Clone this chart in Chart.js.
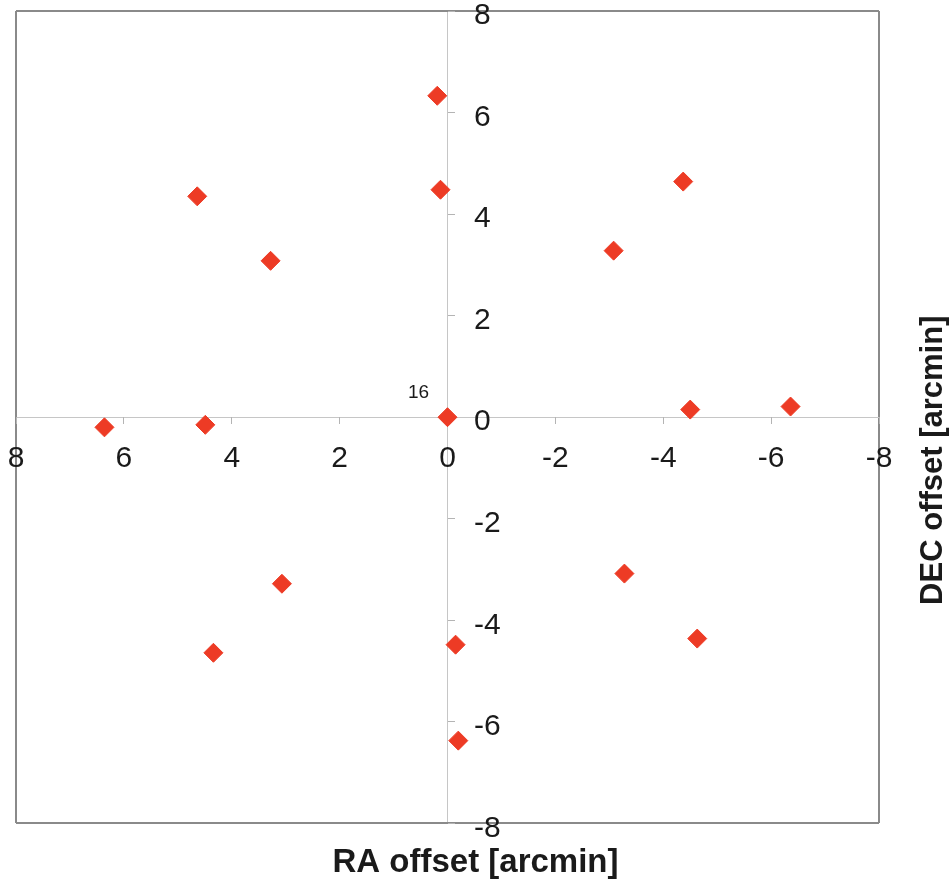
<!DOCTYPE html>
<html lang="en">

<head>
    <meta charset="UTF-8">
    <meta name="viewport" content="width=device-width, initial-scale=1.0">
    <title>Pointing Offsets</title>
    <script src="https://cdn.jsdelivr.net/npm/chart.js@4"></script>
    <style>
        html, body {
            margin: 0;
            padding: 0;
            background: #fff;
        }
        .chart-container {
            position: relative;
            width: 951px;
            height: 886px;
        }
    </style>
</head>

<body>
    <div class="chart-container">
        <canvas id="offsetChart"></canvas>
    </div>

    <script>
        // Pointing offsets in arcmin (RA, DEC) and their labels
        const raOffset  = [0.19, 0.13, 4.64, 3.28, -4.37, -3.08, 0, 6.36, 4.49, -4.50, -6.36, 3.07, 4.34, -3.28, -4.63, -0.15, -0.20];
        const decOffset = [6.33, 4.48, 4.35, 3.08, 4.64, 3.28, 0, -0.20, -0.15, 0.15, 0.21, -3.28, -4.64, -3.08, -4.36, -4.48, -6.37];
        const pointNames = ['', '', '', '', '', '', '16', '', '', '', '', '', '', '', '', '', ''];

        const axisMin = -8;
        const axisMax = 8;
        const axisStep = 2;
        const xTitle = 'RA offset [arcmin]';
        const yTitle = 'DEC offset [arcmin]';

        const FONT = '"Liberation Sans", Arial, sans-serif';
        Chart.defaults.font.family = FONT;
        Chart.defaults.color = '#1a1a1a';

        const markerColor = '#ED3B25';
        const frameColor = '#8a8a8a';
        const zeroColor = '#c6c6c6';

        // outer frame on the +/-8 lines, light cross on 0
        function gridColor(ctx) {
            const v = ctx.tick.value;
            if (v === axisMin || v === axisMax) return frameColor;
            if (v === 0) return zeroColor;
            return 'rgba(0,0,0,0)';
        }
        function gridWidth(ctx) {
            const v = ctx.tick.value;
            return (v === axisMin || v === axisMax) ? 2 : 1;
        }

        // keep helper axes from taking layout space
        function noSpace(scale) {
            if (scale.isHorizontal()) scale.height = 0; else scale.width = 0;
            scale.paddingTop = scale.paddingBottom = scale.paddingLeft = scale.paddingRight = 0;
        }

        const yTitlePlugin = {
            id: 'yTitle',
            afterDraw(chart) {
                const { ctx, chartArea } = chart;
                ctx.save();
                ctx.translate(chartArea.right + 54, (chartArea.top + chartArea.bottom) / 2 + 43);
                ctx.rotate(-Math.PI / 2);
                ctx.font = 'bold 31px ' + FONT;
                ctx.fillStyle = '#1a1a1a';
                ctx.textAlign = 'center';
                ctx.textBaseline = 'middle';
                ctx.fillText(yTitle, 0, 0);
                ctx.restore();
            }
        };

        const pointNamePlugin = {
            id: 'pointNames',
            afterDatasetsDraw(chart) {
                const ctx = chart.ctx;
                const meta = chart.getDatasetMeta(0);
                ctx.save();
                ctx.font = '19px ' + FONT;
                ctx.fillStyle = '#1a1a1a';
                ctx.textAlign = 'center';
                ctx.textBaseline = 'middle';
                meta.data.forEach((pt, i) => {
                    if (pointNames[i]) ctx.fillText(pointNames[i], pt.x - 29, pt.y - 24);
                });
                ctx.restore();
            }
        };

        const ctx = document.getElementById('offsetChart').getContext('2d');
        const chart = new Chart(ctx, {
            type: 'scatter',
            data: {
                datasets: [{
                    data: raOffset.map((x, i) => ({ x: x, y: decOffset[i] })),
                    xAxisID: 'x',
                    yAxisID: 'y',
                    pointStyle: 'rectRot',
                    pointRadius: 9.5,
                    pointHoverRadius: 9.5,
                    backgroundColor: markerColor,
                    borderColor: markerColor,
                    borderWidth: 1
                }]
            },
            options: {
                responsive: true,
                maintainAspectRatio: false,
                animation: false,
                events: [],
                layout: { padding: { top: 11, left: 0, right: 0, bottom: 0 } },
                scales: {
                    x: {
                        type: 'linear',
                        position: 'bottom',
                        min: axisMin,
                        max: axisMax,
                        reverse: true,
                        ticks: { display: false, stepSize: axisStep },
                        grid: { drawTicks: false, color: gridColor, lineWidth: gridWidth },
                        border: { display: false }
                    },
                    y: {
                        type: 'linear',
                        position: 'right',
                        min: axisMin,
                        max: axisMax,
                        ticks: { display: false, stepSize: axisStep },
                        grid: { drawTicks: false, color: gridColor, lineWidth: gridWidth },
                        border: { display: false },
                        afterFit: (scale) => { scale.width = 72; }
                    },
                    // RA labels along the DEC = 0 line
                    xZero: {
                        axis: 'x',
                        type: 'linear',
                        position: { y: 0 },
                        min: axisMin,
                        max: axisMax,
                        reverse: true,
                        ticks: { stepSize: axisStep, padding: 17, font: { size: 30 } },
                        grid: { drawOnChartArea: false, tickLength: 7, color: '#b4b4b4' },
                        border: { display: false },
                        afterFit: noSpace
                    },
                    // DEC labels just right of the RA = 0 line
                    yLabels: {
                        axis: 'y',
                        type: 'linear',
                        position: 'left',
                        min: axisMin,
                        max: axisMax,
                        ticks: { stepSize: axisStep, mirror: true, padding: 458, labelOffset: 5, font: { size: 30 } },
                        grid: { display: false },
                        border: { display: false },
                        afterFit: (scale) => {
                            scale.width = 16;
                            scale.paddingTop = scale.paddingBottom = 0;
                        }
                    },
                    // small tick marks on the RA = 0 line
                    yZero: {
                        axis: 'y',
                        type: 'linear',
                        position: { x: 0 },
                        min: axisMin,
                        max: axisMax,
                        ticks: { display: false, stepSize: axisStep },
                        grid: { drawOnChartArea: false, tickLength: -7, color: '#b4b4b4' },
                        border: { display: false },
                        afterFit: noSpace
                    }
                },
                plugins: {
                    legend: { display: false },
                    tooltip: { enabled: false },
                    title: {
                        display: true,
                        position: 'bottom',
                        text: xTitle,
                        color: '#1a1a1a',
                        font: { size: 33, weight: 'bold' },
                        padding: { top: 20, bottom: 3 }
                    }
                }
            },
            plugins: [yTitlePlugin, pointNamePlugin]
        });
    </script>
</body>

</html>
